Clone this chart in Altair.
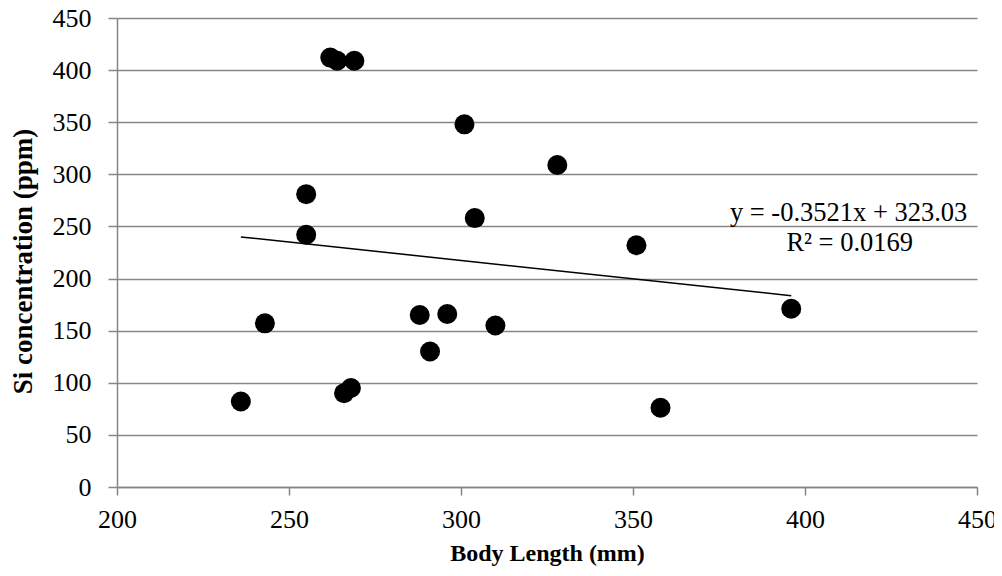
import altair as alt
import pandas as pd

body_length = [236, 243, 255, 255, 262, 264, 269, 266, 268, 288, 291, 296, 301, 304, 310, 328, 351, 358, 396]
si_conc = [82, 157, 281, 242, 412, 409, 409, 90, 95, 165, 130, 166, 348, 258, 155, 309, 232, 76, 171]

slope = -0.3521
intercept = 323.03
r2 = 0.0169

df = pd.DataFrame({"x": body_length, "y": si_conc})
xmin, xmax = min(body_length), max(body_length)
trend = pd.DataFrame({"x": [xmin, xmax], "y": [slope * xmin + intercept, slope * xmax + intercept]})
labels = pd.DataFrame({
    "x": [447.2, 413],
    "y": [255.7, 226.9],
    "t": [f"y = {slope}x + {intercept}", f"R\u00b2 = {r2}"],
})

xs = alt.Scale(domain=[200, 450], nice=False, zero=False)
ys = alt.Scale(domain=[0, 450], nice=False)

xaxis = alt.Axis(values=[200, 250, 300, 350, 400, 450], title="Body Length (mm)", grid=False,
                 labelFlush=False, labelOverlap=False,
                 domainColor="#868686", domainWidth=1.5, tickColor="#868686", tickWidth=1.5, tickSize=8,
                 labelFont="Liberation Serif", labelFontSize=26, labelColor="black", labelPadding=11,
                 titleFont="Liberation Serif", titleFontSize=24, titleFontWeight="bold", titleColor="black",
                 titlePadding=9)
yaxis = alt.Axis(values=list(range(0, 451, 50)), title="Si concentration (ppm)", grid=True,
                 labelFlush=False, labelOverlap=False,
                 gridColor="#868686", gridWidth=1.5,
                 domainColor="#868686", domainWidth=1.5, tickColor="#868686", tickWidth=1.5, tickSize=9,
                 labelFont="Liberation Serif", labelFontSize=26, labelColor="black", labelPadding=17,
                 titleFont="Liberation Serif", titleFontSize=27, titleFontWeight="bold", titleColor="black",
                 titlePadding=15, titleY=243)

points = alt.Chart(df).mark_circle(color="black", opacity=1, size=400).encode(
    x=alt.X("x:Q", scale=xs, axis=xaxis),
    y=alt.Y("y:Q", scale=ys, axis=yaxis),
)
line = alt.Chart(trend).mark_line(color="black", strokeWidth=1.5).encode(
    x=alt.X("x:Q", scale=xs),
    y=alt.Y("y:Q", scale=ys),
)
t1 = alt.Chart(labels.iloc[[0]]).mark_text(font="Liberation Serif", fontSize=26.5, color="black",
                                            baseline="alphabetic", align="right").encode(
    x=alt.X("x:Q", scale=xs), y=alt.Y("y:Q", scale=ys), text="t:N")
t2 = alt.Chart(labels.iloc[[1]]).mark_text(font="Liberation Serif", fontSize=26.5, color="black",
                                            baseline="alphabetic", align="center").encode(
    x=alt.X("x:Q", scale=xs), y=alt.Y("y:Q", scale=ys), text="t:N")

chart = alt.layer(line, points, t1, t2).properties(
    width=860, height=469,
    autosize=alt.AutoSizeParams(type="none"),
    padding={"left": 109, "top": 10, "right": 17, "bottom": 81},
    background="white",
).configure_view(stroke=None)

chart.save("out.html", embed_options={"renderer": "svg", "actions": False})
